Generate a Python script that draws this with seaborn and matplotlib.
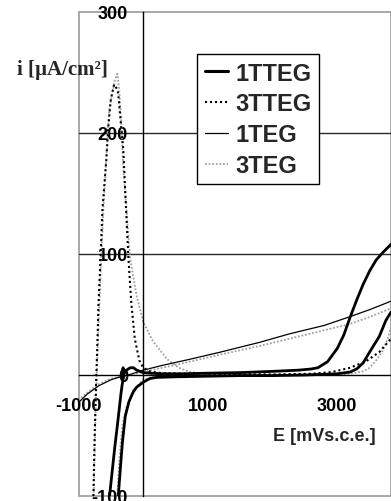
import matplotlib
matplotlib.use("Agg")
import matplotlib.pyplot as plt
import numpy as np
import pandas as pd
import seaborn as sns
from matplotlib.lines import Line2D
from matplotlib.patches import Rectangle
from matplotlib.font_manager import FontProperties

# ---- data: potential E [mV vs s.c.e.] and current density i [uA/cm2] ----
# 1TTEG forward scan (with the small loop near -300 mV)
e_1tteg_fwd = [-520, -480, -440, -400, -370, -345, -325, -305, -300, -310, -325, -318, -300,
               -260, -200, -150, -100, -50, 0, 100, 300, 600, 1000, 1500, 2000, 2400,
               2600, 2700, 2850, 3000, 3100, 3200, 3300, 3400, 3500, 3600, 3700, 3830]
i_1tteg_fwd = [-100, -80, -60, -42, -28, -16, -8, -2, 3, 6, 3, -2, 1,
               4, 6, 6, 4, 3, 2, 1.5, 1, 1, 1.5, 2, 3, 4,
               5, 6, 11, 22, 33, 48, 62, 75, 86, 95, 101, 108]
# 1TTEG reverse scan
e_1tteg_rev = [3830, 3750, 3650, 3500, 3400, 3300, 3200, 3000, 2500, 2000, 1500, 1000,
               500, 200, 100, 0, -100, -154, -220, -277, -320, -350, -385]
i_1tteg_rev = [52, 45, 32, 19, 10, 5, 2.5, 1, 0, -0.5, -0.5, -1,
               -1.5, -2, -3, -6, -10, -14, -22, -34, -55, -75, -100]

# 3TTEG
e_3tteg = [-770, -750, -730, -708, -690, -660, -630, -570, -540, -500, -450, -400, -385,
           -340, -308, -277, -230, -185, -130, -60, 0, 100, 300, 1000, 2000, 2600,
           2920, 3200, 3450, 3650, 3830]
i_3tteg = [-100, -50, -10, 27, 60, 96, 137, 178, 205, 228, 240, 236, 232,
           205, 187, 151, 98, 60, 30, 12, 6, 3, 1.5, 0.8, 0.5, 1,
           2.5, 6, 11.5, 19, 30]

# 1TEG
e_1teg = [-1000, -985, -870, -690, -500, -385, -200, 0, 300, 720, 1200, 1800, 2260,
          2800, 3185, 3500, 3830]
i_1teg = [-24, -22, -16, -9, -4, -2, 0.5, 4, 8, 13, 19, 27, 34,
          41, 48, 54, 61]

# 3TEG: steady rise, return from high potential, and the oxidation peak
e_3teg_rise = [-1000, -940, -800, -700, -500, -385, -200, 0, 300, 720, 1200, 1800, 2260,
               2800, 3185, 3500, 3830]
i_3teg_rise = [-21, -18, -12, -8, -3, -2, 0, 2.5, 6, 11, 17, 24, 30,
               37, 42, 48, 55]
e_3teg_ret = [3830, 3780, 3700, 3600, 3500, 3400, 3200, 3000, 2000, 1000, 300, 200, 0,
              -150, -250, -323, -370, -400]
i_3teg_ret = [40, 30, 20, 12, 6, 3, 1, 0.5, 0, 0, -0.5, -1, -4,
              -12, -25, -42, -70, -100]
e_3teg_peak = [-765, -750, -730, -708, -680, -650, -615, -570, -523, -480, -440, -400,
               -370, -340, -310, -250, -200, -100, 0, 150, 370, 550, 720, 1000, 1400]
i_3teg_peak = [-100, -60, -20, 15, 55, 95, 137, 180, 220, 232, 243, 249,
               235, 210, 173, 130, 96, 65, 44, 28, 13, 6, 2.5, 0.8, 0.3]

x_ticks = [-1000, 1000, 3000]
y_ticks = [-100, 0, 100, 200, 300]
grid_levels = [100, 200]
labels = ["1TTEG", "3TTEG", "1TEG", "3TEG"]

segments = [
    ("1TTEG", 0, e_1tteg_fwd, i_1tteg_fwd),
    ("1TTEG", 1, e_1tteg_rev, i_1tteg_rev),
    ("3TTEG", 0, e_3tteg, i_3tteg),
    ("1TEG", 0, e_1teg, i_1teg),
    ("3TEG", 0, e_3teg_rise, i_3teg_rise),
    ("3TEG", 1, e_3teg_ret, i_3teg_ret),
    ("3TEG", 2, e_3teg_peak, i_3teg_peak),
]
rows = []
for name, seg, es, cs in segments:
    for k, (e, c) in enumerate(zip(es, cs)):
        rows.append({"series": name, "seg": seg, "order": k, "E": e, "i": c})
df = pd.DataFrame(rows)

styles = {
    "1TTEG": dict(color="black", linewidth=2.0, linestyle="-"),
    "3TTEG": dict(color="black", linewidth=1.5, linestyle=(0, (1, 1.4))),
    "1TEG": dict(color="black", linewidth=0.9, linestyle="-"),
    "3TEG": dict(color="#a0a0a0", linewidth=1.3, linestyle=(0, (1, 1.0))),
}

sns.set_style("white")
plt.rcParams["font.family"] = ["Liberation Sans", "DejaVu Sans"]

fig = plt.figure(figsize=(3.91, 5.02), dpi=100)
ax = fig.add_axes([78.5 / 391, 1 - 497 / 502, 1 - 78.5 / 391, (497 - 13) / 502])

for name in ["3TEG", "1TEG", "3TTEG", "1TTEG"]:
    sub = df[df["series"] == name]
    sns.lineplot(data=sub, x="E", y="i", units="seg", estimator=None, sort=False,
                 ax=ax, legend=False, **styles[name])

ax.set_xlim(-1000, 3830)
ax.set_ylim(-100, 300)

for lvl in grid_levels:
    ax.axhline(lvl, color="#2a2a2a", linewidth=1.0, zorder=0.5)

# outer frame in light grey, axes lines through the origin in black
for s in ["top", "right"]:
    ax.spines[s].set_visible(False)
ax.add_patch(Rectangle((0, 0), 1, 1, transform=ax.transAxes, fill=False,
                       edgecolor="#9a9a9a", linewidth=1.2, clip_on=False, zorder=0.4))
ax.spines["left"].set_position(("data", 0))
ax.spines["bottom"].set_position(("data", 0))
for s in ["left", "bottom"]:
    ax.spines[s].set_color("black")
    ax.spines[s].set_linewidth(1.0)

tick_font = FontProperties(family="Liberation Sans", weight="bold", size=13)
ax.set_xticks(x_ticks)
ax.set_xticklabels([str(v) for v in x_ticks], fontproperties=tick_font)
ax.set_yticks(y_ticks)
ax.set_yticklabels([str(v) for v in y_ticks], fontproperties=tick_font)
ax.tick_params(axis="x", direction="out", length=3, width=1, pad=13, colors="black")
ax.tick_params(axis="y", direction="inout", length=6, width=1, pad=8, colors="black")
ax.set_xlabel("")
ax.set_ylabel("")

fig.text(324 / 391, 1 - 437 / 502, "E [mVs.c.e.]", ha="center", va="center",
         fontproperties=FontProperties(family="Liberation Sans", weight="bold", size=13))
fig.text(62 / 391, 1 - 70 / 502, "i [µA/cm²]", ha="center", va="center",
         fontproperties=FontProperties(family="Liberation Serif", weight="bold", size=15))

handles = [Line2D([], [], **styles[n]) for n in labels]
handles[0].set_linewidth(2.2)
leg = ax.legend(handles, labels, loc="upper left",
                bbox_to_anchor=(197 / 391, 1 - 55 / 502), bbox_transform=fig.transFigure,
                frameon=True, fancybox=False, edgecolor="black", framealpha=1,
                borderaxespad=0, prop=FontProperties(family="Liberation Sans", weight="bold", size=17),
                handlelength=1.0, handletextpad=0.3, labelspacing=0.33, borderpad=0.32)
leg.get_frame().set_linewidth(1.0)

fig.savefig("out.png", dpi=100)
